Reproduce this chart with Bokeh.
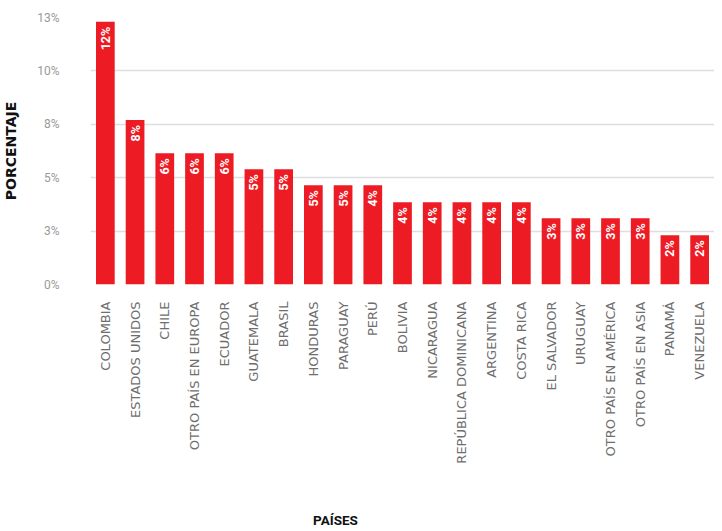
import math
from bokeh.plotting import figure
from bokeh.layouts import column
from bokeh.models import ColumnDataSource, Range1d, FixedTicker, Label
from bokeh.core.properties import value
from bokeh.embed import file_html
from bokeh.resources import INLINE

countries = ["COLOMBIA", "ESTADOS UNIDOS", "CHILE", "OTRO PAÍS EN EUROPA", "ECUADOR",
             "GUATEMALA", "BRASIL", "HONDURAS", "PARAGUAY", "PERÚ", "BOLIVIA",
             "NICARAGUA", "REPÚBLICA DOMINICANA", "ARGENTINA", "COSTA RICA",
             "EL SALVADOR", "URUGUAY", "OTRO PAÍS EN AMÉRICA", "OTRO PAÍS EN ASIA",
             "PANAMÁ", "VENEZUELA"]
values = [12.3, 7.7, 6.15, 6.15, 6.15, 5.4, 5.4, 4.65, 4.65, 4.65, 3.85,
          3.85, 3.85, 3.85, 3.85, 3.1, 3.1, 3.1, 3.1, 2.3, 2.3]
bar_labels = ["12%", "8%", "6%", "6%", "6%", "5%", "5%", "5%", "5%", "4%", "4%",
              "4%", "4%", "4%", "4%", "3%", "3%", "3%", "3%", "2%", "2%"]
y_ticks = [0, 2.5, 5, 7.5, 10, 12.5]
y_tick_labels = ["0%", "3%", "5%", "8%", "10%", "13%"]
x_title = "PAÍSES"

src = ColumnDataSource(dict(x=countries, y=values, t=bar_labels))

W = 714
p = figure(x_range=countries, y_range=Range1d(0, 12.5), width=W, height=495,
           output_backend="svg", toolbar_location=None,
           min_border_left=80, min_border_right=0, min_border_top=17, min_border_bottom=211)
p.outline_line_color = None
p.background_fill_color = "white"

p.vbar(x="x", top="y", width=0.63, source=src, fill_color="#ED1C24", line_color=None)
p.text(x="x", y="y", text="t", source=src, angle=math.pi / 2, text_align="right",
       text_baseline="middle", y_offset=5, text_color="white",
       text_font=value("Roboto"), text_font_style="bold", text_font_size="12.5px")

# y axis
p.yaxis.ticker = FixedTicker(ticks=y_ticks)
p.yaxis.major_label_overrides = {t: l for t, l in zip(y_ticks, y_tick_labels)}
p.yaxis.axis_line_color = None
p.yaxis.major_tick_line_color = None
p.yaxis.minor_tick_line_color = None
p.yaxis.major_label_text_color = "#9a9a9a"
p.yaxis.major_label_text_font = "Roboto"
p.yaxis.major_label_text_font_size = "12px"
p.yaxis.major_label_standoff = 25
p.yaxis.axis_label = "PORCENTAJE"
p.yaxis.axis_label_text_font = "DejaVu Sans"
p.yaxis.axis_label_text_font_style = "bold"
p.yaxis.axis_label_text_font_size = "14px"
p.yaxis.axis_label_text_color = "#111111"
p.yaxis.axis_label_standoff = 15

p.ygrid.grid_line_color = "#dedede"
p.ygrid.grid_line_width = 1.5
p.xgrid.grid_line_color = None

# x axis
p.xaxis.axis_line_color = None
p.xaxis.major_tick_line_color = None
p.xaxis.minor_tick_line_color = None
p.xaxis.major_label_orientation = math.pi / 2
p.xaxis.major_label_text_color = "#6e6e6e"
p.xaxis.major_label_text_font = "DejaVu Sans"
p.xaxis.major_label_text_font_size = "13px"
p.xaxis.major_label_standoff = 11
p.x_range.range_padding = 0

# bottom strip holding the x-axis title
p2 = figure(width=W, height=35, x_range=Range1d(0, 1), y_range=Range1d(0, 1),
            output_backend="svg", toolbar_location=None,
            min_border_left=0, min_border_right=0, min_border_top=0, min_border_bottom=0)
p2.axis.visible = False
p2.grid.grid_line_color = None
p2.outline_line_color = None
p2.add_layout(Label(x=245, y=0.3, x_units="screen", y_units="data", text=x_title,
                    text_align="center", text_baseline="middle",
                    text_font="Roboto", text_font_style="bold",
                    text_font_size="13.5px", text_color="#111111"))

layout = column(p, p2, spacing=0)
open("out.html", "w").write(file_html(layout, INLINE))
